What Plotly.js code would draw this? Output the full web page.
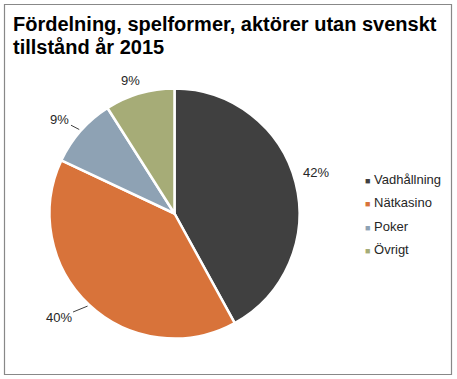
<!DOCTYPE html>
<html>
<head>
<meta charset="utf-8">
<script src="https://cdn.plot.ly/plotly-3.0.1.min.js"></script>
<style>html,body{margin:0;padding:0;background:#fff;}#chart{width:457px;height:379px;}</style>
</head>
<body>
<div id="chart"></div>
<script>
const categories = ['Vadhållning', 'Nätkasino', 'Poker', 'Övrigt'];
const shares = [42, 40, 9, 9];
const sliceColors = ['#404040', '#D8733A', '#8EA2B4', '#A6AC77'];
const titleLines = ['Fördelning, spelformer, aktörer utan svenskt', 'tillstånd år 2015'];

const W = 457, H = 379;
const FONT = 'Liberation Sans, Arial, sans-serif';
// pie geometry (pixels)
const cx = 174.5, cy = 213.5, R = 125;
// label placement config (style, not data)
const labelR = 146;
const labelNudge = [[0, -5], [-16, -2], [-5, 2.5], [-3, 7]];
const hasLeader = [false, true, true, false];

const px = x => x / W;
const py = y => 1 - y / H;

const total = shares.reduce((a, b) => a + b, 0);
const annotations = [];

// title lines
titleLines.forEach((t, i) => {
  annotations.push({
    x: px(11), y: py(24 + i * 22.6), xref: 'paper', yref: 'paper',
    xanchor: 'left', yanchor: 'middle', showarrow: false,
    text: '<b>' + t + '</b>',
    font: {family: FONT, size: 20, color: '#000000'}
  });
});

let cum = 0;
shares.forEach((v, i) => {
  const mid = (cum + v / 2) / total * 2 * Math.PI;
  cum += v;
  const dx = Math.sin(mid), dy = -Math.cos(mid);
  const tx = cx + dx * labelR + labelNudge[i][0];
  const ty = cy + dy * labelR + labelNudge[i][1];
  const pct = Math.round(v / total * 100) + '%';
  if (hasLeader[i]) {
    const ex = cx + dx * (R + 2), ey = cy + dy * (R + 2);
    annotations.push({
      x: px(ex), y: py(ey), xref: 'paper', yref: 'paper',
      text: pct, showarrow: true, arrowhead: 0, arrowwidth: 1, arrowcolor: '#404040',
      axref: 'pixel', ayref: 'pixel', ax: tx - ex, ay: ty - ey, standoff: 0,
      font: {family: FONT, size: 13, color: '#262626'}
    });
  } else {
    annotations.push({
      x: px(tx), y: py(ty), xref: 'paper', yref: 'paper',
      text: pct, showarrow: false, xanchor: 'center', yanchor: 'middle',
      font: {family: FONT, size: 13, color: '#262626'}
    });
  }
});

// legend built from the category list
const legX = 363, legY0 = 179, legStep = 23.5;
categories.forEach((c, i) => {
  annotations.push({
    x: px(legX), y: py(legY0 + i * legStep), xref: 'paper', yref: 'paper',
    xanchor: 'left', yanchor: 'middle', showarrow: false,
    text: '<span style="color:' + sliceColors[i] + ';font-size:9px">■</span> ' + c,
    font: {family: FONT, size: 13, color: '#262626'}
  });
});

const data = [{
  type: 'pie',
  labels: categories,
  values: shares,
  sort: false,
  direction: 'clockwise',
  rotation: 0,
  textinfo: 'none',
  hoverinfo: 'label+percent',
  marker: {colors: sliceColors, line: {color: '#ffffff', width: 2.5}},
  domain: {x: [px(cx - R), px(cx + R)], y: [py(cy + R), py(cy - R)]},
  showlegend: false
}];

const layout = {
  width: W, height: H,
  margin: {l: 0, r: 0, t: 0, b: 0},
  paper_bgcolor: '#ffffff',
  showlegend: false,
  annotations: annotations,
  shapes: [{
    type: 'rect', xref: 'paper', yref: 'paper',
    x0: px(4.5), x1: px(451.5), y0: py(374.5), y1: py(4.5),
    line: {color: '#888888', width: 1.2}, fillcolor: 'rgba(0,0,0,0)'
  }]
};

Plotly.newPlot('chart', data, layout, {displayModeBar: false, staticPlot: true});
</script>
</body>
</html>
